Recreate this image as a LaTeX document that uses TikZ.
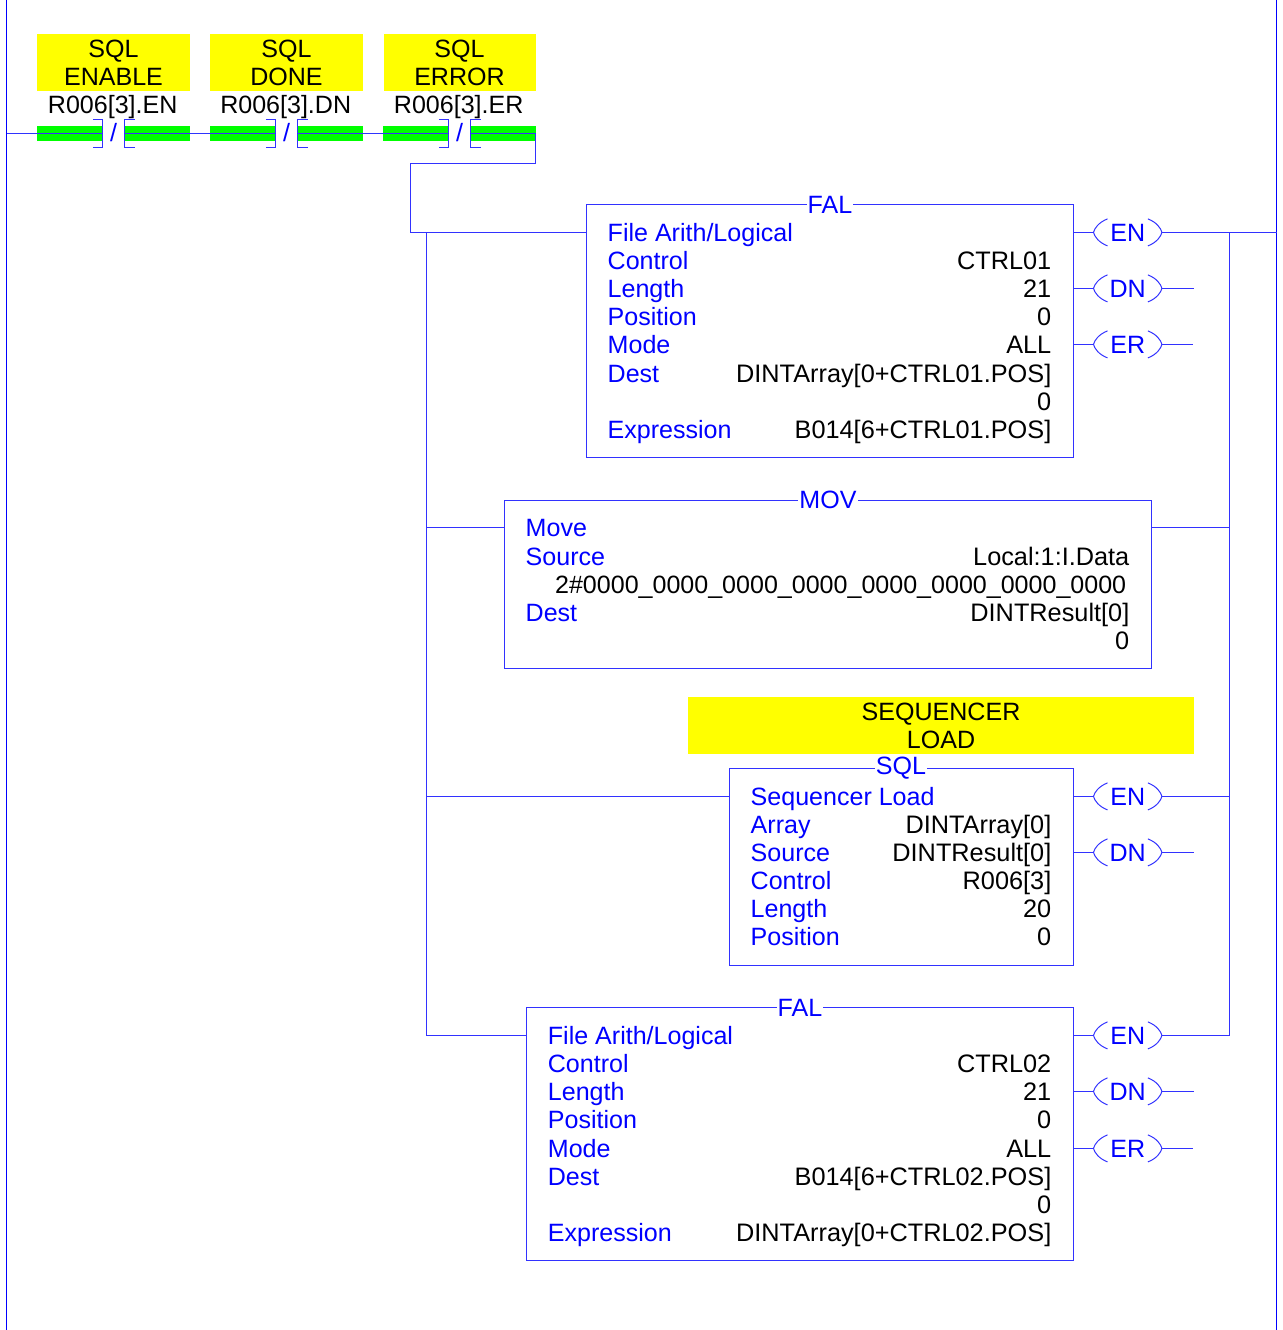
\documentclass[tikz,border=0pt]{standalone}
\usepackage{fontspec}
\setmainfont{Liberation Sans}
\definecolor{ladder}{RGB}{0,0,255}
\definecolor{wirec}{RGB}{50,50,255}
\definecolor{tagyellow}{RGB}{255,255,0}
\definecolor{bargreen}{RGB}{0,255,0}
\newcommand{\ladderfont}{\fontsize{25.3}{28}\selectfont}
\newcommand{\labelfont}{\fontsize{25.05}{28}\selectfont}
\tikzset{
  wire/.style={draw=wirec,line width=1pt},
  railline/.style={draw=ladder,line width=1pt},
  boxline/.style={draw=wirec,line width=1pt,fill=white,inner sep=0pt},
  tag/.style={fill=tagyellow,inner sep=0pt,align=center,text=black,font=\labelfont},
  greenbar/.style={fill=bargreen,inner sep=0pt,minimum height=15pt,minimum width=66pt},
  bluetxt/.style={text=ladder,inner sep=0pt,font=\labelfont},
  blacktxt/.style={text=black,inner sep=0pt,font=\ladderfont},
  lab/.style={bluetxt,anchor=base west},
  val/.style={blacktxt,anchor=base east},
  title/.style={bluetxt,fill=white,inner xsep=1pt,inner ysep=0pt},
  coilnode/.style={bluetxt,minimum width=68pt,minimum height=28pt},
}
\newcommand{\coilat}[3]{%
  \node[coilnode] (#1) at (1127.7,#2) {#3};
  \draw[wire] ([xshift=14pt,yshift=13.5pt]#1.west) .. controls ([xshift=5pt,yshift=10pt]#1.west) and ([xshift=1pt,yshift=4pt]#1.west) .. (#1.west)
     .. controls ([xshift=1pt,yshift=-4pt]#1.west) and ([xshift=5pt,yshift=-10pt]#1.west) .. ([xshift=14pt,yshift=-13.5pt]#1.west);
  \draw[wire] ([xshift=-14pt,yshift=13.5pt]#1.east) .. controls ([xshift=-5pt,yshift=10pt]#1.east) and ([xshift=-1pt,yshift=4pt]#1.east) .. (#1.east)
     .. controls ([xshift=-1pt,yshift=-4pt]#1.east) and ([xshift=-5pt,yshift=-10pt]#1.east) .. ([xshift=-14pt,yshift=-13.5pt]#1.east);
}
\newcommand{\contact}[5]{% name, x-left, tag text, address, tag width
  \node[tag,minimum width=#5pt,minimum height=57pt] (#1tag) at (#2+76.5,62.5) {\raisebox{0.7pt}{\parbox{#5pt}{\centering #3}}};
  \node[blacktxt,anchor=base,font=\labelfont] (#1addr) at (#2+75.7,113) {#4};
  \node[greenbar,anchor=west] (#1a) at (#2,133.5) {};
  \node[greenbar,anchor=west] (#1b) at (#2+87,133.5) {};
  \node[bluetxt] (#1s) at (#2+76.5,133) {/};
  \draw[wire] ([xshift=-10.5pt,yshift=14pt]#1a.east) -- ([xshift=-.5pt,yshift=14pt]#1a.east) -- ([xshift=-.5pt,yshift=-14pt]#1a.east) -- ([xshift=-10.5pt,yshift=-14pt]#1a.east);
  \draw[wire] ([xshift=10.5pt,yshift=14pt]#1b.west) -- ([yshift=14pt]#1b.west) -- ([yshift=-14pt]#1b.west) -- ([xshift=10.5pt,yshift=-14pt]#1b.west);
  \draw[wire] (#1b.west) -- ([xshift=-.6pt]#1b.east);
  \draw[wire] (#1a.west) -- (#1a.east);
}
\begin{document}
\begin{tikzpicture}[x=1pt,y=-1pt]
\useasboundingbox (0,0) rectangle (1282,1330);
% rails
\coordinate (railLtop) at (6.5,0);
\coordinate (railLbot) at (6.5,1330);
\coordinate (railRtop) at (1276.7,0);
\coordinate (railRbot) at (1276.7,1330);
\draw[railline] (railLtop) -- (railLbot);
\draw[railline] (railRtop) -- (railRbot);
% contacts
\contact{c}{37}{SQL\\ENABLE}{R006[3].EN}{153}
\contact{d}{210}{SQL\\DONE}{R006[3].DN}{153}
\contact{e}{383}{SQL\\ERROR}{R006[3].ER}{152}
\coordinate (raillink) at (railLtop |- ca.west);
\draw[wire] (raillink) -- (ca.west);
\draw[wire] (cb.east) -- (da.west);
\draw[wire] (db.east) -- (ea.west);
% boxes
\node[boxline,anchor=north west,minimum width=487pt,minimum height=253.7pt] (fal1) at (586.3,203.6) {};
\node[boxline,anchor=north west,minimum width=647pt,minimum height=168pt] (mov) at (504.3,499.6) {};
\node[boxline,anchor=north west,minimum width=344pt,minimum height=197pt] (sql) at (729.3,767.6) {};
\node[boxline,anchor=north west,minimum width=547pt,minimum height=253pt] (fal2) at (526.3,1006.7) {};
\node[tag,minimum width=506pt,minimum height=57pt] (seqtag) at (941,725.5) {SEQUENCER\\LOAD};
% titles
\node[title] (fal1t) at (830,204.6) {FAL};
\node[title] (movt) at (828,500) {MOV};
\node[title] (sqlt) at (901,768.6) {SQL};
\node[title] (fal2t) at (800,1007.6) {FAL};
% FAL 1
\node[lab] (f1a) at (607.5,241) {File Arith/Logical};
\node[lab] (f1b) at (607.5,269) {Control};
\node[lab] (f1c) at (607.5,297) {Length};
\node[lab] (f1d) at (607.5,325) {Position};
\node[lab] (f1e) at (607.5,353) {Mode};
\node[lab] (f1f) at (607.5,382) {Dest};
\node[lab] (f1g) at (607.5,438) {Expression};
\node[val] (f1v1) at (1051.5,269) {CTRL01};
\node[val] (f1v2) at (1051.5,297) {21};
\node[val] (f1v3) at (1051.5,325) {0};
\node[val] (f1v4) at (1051.5,353) {ALL};
\node[val] (f1v5) at (1051.5,382) {DINTArray[0+CTRL01.POS]};
\node[val] (f1v6) at (1051.5,410) {0};
\node[val] (f1v7) at (1051.5,438) {B014[6+CTRL01.POS]};
% MOV
\node[lab] (m1) at (525.5,536) {Move};
\node[lab] (m2) at (525.5,565) {Source};
\node[lab] (m3) at (525.5,621) {Dest};
\node[val] (mv1) at (1129.5,565) {Local:1:I.Data};
\node[val,font=\labelfont] (mv2) at (1126.5,593) {2\#0000\_0000\_0000\_0000\_0000\_0000\_0000\_0000};
\node[val] (mv3) at (1129.5,621) {DINTResult[0]};
\node[val] (mv4) at (1129.5,649) {0};
% SQL
\node[lab] (s1) at (750.5,805) {Sequencer Load};
\node[lab] (s2) at (750.5,833) {Array};
\node[lab] (s3) at (750.5,861) {Source};
\node[lab] (s4) at (750.5,889) {Control};
\node[lab] (s5) at (750.5,917) {Length};
\node[lab] (s6) at (750.5,945) {Position};
\node[val] (sv1) at (1051.5,833) {DINTArray[0]};
\node[val] (sv2) at (1051.5,861) {DINTResult[0]};
\node[val] (sv3) at (1051.5,889) {R006[3]};
\node[val] (sv4) at (1051.5,917) {20};
\node[val] (sv5) at (1051.5,945) {0};
% FAL 2
\node[lab] (g1a) at (547.7,1044) {File Arith/Logical};
\node[lab] (g1b) at (547.7,1072) {Control};
\node[lab] (g1c) at (547.7,1100) {Length};
\node[lab] (g1d) at (547.7,1128) {Position};
\node[lab] (g1e) at (547.7,1157) {Mode};
\node[lab] (g1f) at (547.7,1185) {Dest};
\node[lab] (g1g) at (547.7,1241) {Expression};
\node[val] (gv1) at (1051.5,1072) {CTRL02};
\node[val] (gv2) at (1051.5,1100) {21};
\node[val] (gv3) at (1051.5,1128) {0};
\node[val] (gv4) at (1051.5,1157) {ALL};
\node[val] (gv5) at (1051.5,1185) {B014[6+CTRL02.POS]};
\node[val] (gv6) at (1051.5,1213) {0};
\node[val] (gv7) at (1051.5,1241) {DINTArray[0+CTRL02.POS]};
% coils
\coilat{en1}{232.4}{EN}
\coilat{dn1}{288.4}{DN}
\coilat{er1}{344.4}{ER}
\coilat{en2}{796.4}{EN}
\coilat{dn2}{852.4}{DN}
\coilat{en3}{1035.4}{EN}
\coilat{dn3}{1091.4}{DN}
\coilat{er3}{1148.4}{ER}
% junctions
\coordinate (feedB) at (410.2,163);
\coordinate (feedA) at ([xshift=-.6pt]eb.east |- feedB);
\coordinate (feedT) at ([xshift=-.6pt]eb.east);
\coordinate (feedC) at (410.2,232.4);
\coordinate (busLtop) at (426.5,232.4);
\coordinate (busLmov) at (426.5,527);
\coordinate (busLsql) at (426.5,796.4);
\coordinate (busLbot) at (426.5,1035.4);
\coordinate (busRtop) at (1229.9,232.4);
\coordinate (busRmov) at (1229.9,527);
\coordinate (busRsql) at (1229.9,796.4);
\coordinate (busRbot) at (1229.9,1035.4);
\coordinate (stubdn1) at (1194,288.4);
\coordinate (stuber1) at (1193,344.4);
\coordinate (stubdn2) at (1194,852.4);
\coordinate (stubdn3) at (1194,1091.4);
\coordinate (stuber3) at (1193,1148.4);
% input wiring
\draw[wire] (feedT) -- (feedA) -- (feedB) -- (feedC) -- (fal1.west |- feedC);
\draw[wire] (busLtop) -- (busLbot) -- (fal2.west |- busLbot);
\draw[wire] (busLmov) -- (mov.west |- busLmov);
\draw[wire] (busLsql) -- (sql.west |- busLsql);
% output wiring
\draw[wire] (fal1.east |- en1.west) -- (en1.west);
\draw[wire] (fal1.east |- dn1.west) -- (dn1.west);
\draw[wire] (fal1.east |- er1.west) -- (er1.west);
\draw[wire] (sql.east |- en2.west) -- (en2.west);
\draw[wire] (sql.east |- dn2.west) -- (dn2.west);
\draw[wire] (fal2.east |- en3.west) -- (en3.west);
\draw[wire] (fal2.east |- dn3.west) -- (dn3.west);
\draw[wire] (fal2.east |- er3.west) -- (er3.west);
\draw[wire] (en1.east) -- (railRtop |- en1.east);
\draw[wire] (dn1.east) -- (stubdn1);
\draw[wire] (er1.east) -- (stuber1);
\draw[wire] (dn2.east) -- (stubdn2);
\draw[wire] (dn3.east) -- (stubdn3);
\draw[wire] (er3.east) -- (stuber3);
\draw[wire] (en2.east) -- (busRsql);
\draw[wire] (en3.east) -- (busRbot);
\draw[wire] (mov.east |- busRmov) -- (busRmov);
\draw[wire] (busRtop) -- (busRbot);
\end{tikzpicture}
\end{document}
